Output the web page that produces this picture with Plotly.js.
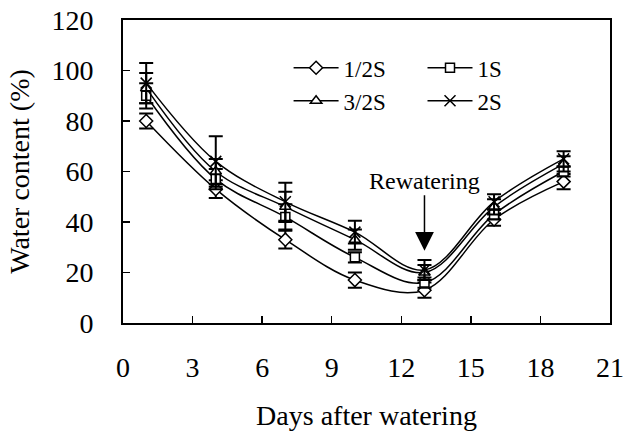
<!DOCTYPE html>
<html>
<head>
<meta charset="utf-8">
<script src="https://cdn.plot.ly/plotly-3.0.1.min.js"></script>
<style>
  html, body { margin: 0; padding: 0; background: #fff; }
  #chart { width: 629px; height: 431px; }
</style>
</head>
<body>
<div id="chart"></div>
<script>
// Days after watering at which soil water content was measured
const days = [1, 4, 7, 10, 13, 16, 19];

// Series names
const seriesNames = ['1/2S', '1S', '3/2S', '2S'];

// Water content (%) per treatment
const halfS      = [80, 53, 33, 17, 13, 41, 56];
const oneS       = [90, 57, 42, 26, 16, 43, 60];
const oneHalfS   = [93, 60, 46, 33, 20, 46, 63];
const twoS       = [95, 64, 48, 36, 21, 48, 65];

// Error bar half-widths (%)
const halfSErr    = [3, 3.5, 3.5, 3, 3, 2.5, 3];
const oneSErr     = [5, 4, 5, 2, 2, 2, 2];
const oneHalfSErr = [6, 5, 6, 4, 3, 3, 3];
const twoSErr     = [8, 10, 7.5, 4.5, 4, 3, 3];

// Axis ticks
const xTicks = [0, 3, 6, 9, 12, 15, 18, 21];
const yTicks = [0, 20, 40, 60, 80, 100, 120];

// Rewatering marker
const rewaterDay = 13;
const rewaterArrowTip = 28.6;

const FONT = 'Liberation Serif, Times New Roman, serif';

const values = [halfS, oneS, oneHalfS, twoS];
const errors = [halfSErr, oneSErr, oneHalfSErr, twoSErr];
const symbols = ['diamond', 'square', 'triangle-up', 'x-thin-open'];
const sizes = [10, 9, 10, 11];
// left legend column holds 1/2S and 3/2S, right column 1S and 2S
const legendIds = ['legend', 'legend2', 'legend', 'legend2'];

const traces = values.map((v, i) => ({
  x: days,
  y: v,
  name: seriesNames[i],
  legend: legendIds[i],
  type: 'scatter',
  mode: 'lines+markers',
  line: { color: '#000', width: 1.5, shape: 'spline', smoothing: 1.0 },
  marker: {
    symbol: symbols[i],
    size: sizes[i],
    color: symbols[i] === 'x-thin-open' ? '#000' : '#fff',
    line: { color: '#000', width: 1.5 }
  },
  error_y: {
    type: 'data',
    array: errors[i],
    visible: true,
    color: '#000',
    thickness: 2,
    width: 7
  }
}));

const legendBase = {
  orientation: 'v',
  xanchor: 'left',
  yanchor: 'top',
  bgcolor: 'rgba(0,0,0,0)',
  font: { family: FONT, size: 23, color: '#000' },
  itemwidth: 45,
  tracegroupgap: 0
};

const layout = {
  width: 629,
  height: 431,
  margin: { l: 123, r: 19, t: 20, b: 108 },
  paper_bgcolor: '#fff',
  plot_bgcolor: '#fff',
  font: { family: FONT, color: '#000', size: 28 },
  showlegend: true,
  legend: Object.assign({}, legendBase, { x: 0.34, y: 0.913 }),
  legend2: Object.assign({}, legendBase, { x: 0.615, y: 0.913 }),
  xaxis: {
    range: [0, 21],
    tickvals: xTicks,
    ticktext: xTicks.map(String),
    ticks: 'inside',
    ticklen: 7,
    tickwidth: 1.5,
    tickcolor: '#000',
    showline: true,
    linecolor: '#000',
    linewidth: 2,
    mirror: true,
    showgrid: false,
    zeroline: false,
    ticklabelstandoff: 18,
    tickfont: { family: FONT, size: 28, color: '#000' },
    title: { text: 'Days after watering', font: { family: FONT, size: 28, color: '#000' }, standoff: 24 }
  },
  yaxis: {
    range: [0, 120],
    tickvals: yTicks,
    ticktext: yTicks.map(String),
    ticks: 'inside',
    ticklen: 7,
    tickwidth: 1.5,
    tickcolor: '#000',
    showline: true,
    linecolor: '#000',
    linewidth: 2,
    mirror: true,
    showgrid: false,
    zeroline: false,
    ticklabelstandoff: 22,
    tickfont: { family: FONT, size: 28, color: '#000' },
    title: { text: 'Water content (%)', font: { family: FONT, size: 28, color: '#000' }, standoff: 14 }
  },
  annotations: [{
    x: rewaterDay,
    y: rewaterArrowTip,
    xref: 'x',
    yref: 'y',
    text: 'Rewatering',
    showarrow: true,
    ax: 0,
    ay: -70,
    arrowhead: 2,
    arrowsize: 2.5,
    arrowwidth: 1.5,
    arrowcolor: '#000',
    font: { family: FONT, size: 24, color: '#000' }
  }]
};

Plotly.newPlot('chart', traces, layout, { displayModeBar: false, staticPlot: true });
</script>
</body>
</html>
